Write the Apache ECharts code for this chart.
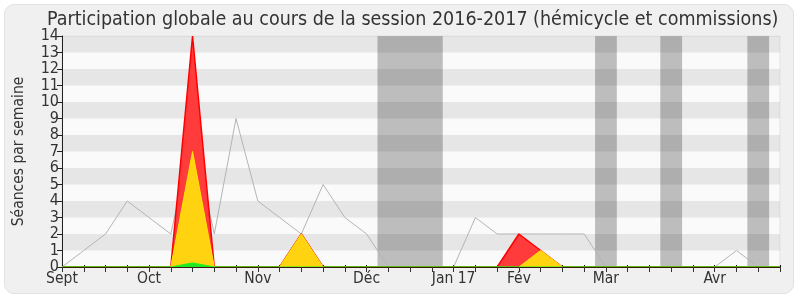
<!DOCTYPE html>
<html>
<head>
<meta charset="utf-8">
<script src="https://cdn.jsdelivr.net/npm/echarts@6/dist/echarts.min.js"></script>
<style>
  html, body { margin: 0; padding: 0; background: #ffffff; }
  #frame { position: absolute; left: 4px; top: 4px; width: 788px; height: 288px;
           background: #f0f0f0; border: 1px solid #e2e2e2; border-radius: 10px; }
  #chart { position: absolute; left: 0; top: 0; width: 800px; height: 300px; }
</style>
</head>
<body>
<div id="frame"></div>
<div id="chart"></div>
<script>
// Week tick labels (one entry per week, Sept 2016 -> Apr 2017)
const weekLabels = ['Sept','','','','Oct','','','','','Nov','','','','','Déc','','','','Jan 17','','','Fév','','','','Mar','','','','','Avr','','',''];
// Grey line: weekly reference activity
const greyValues   = [0,1,2,4,3,2,8,2,9,4,3,2,5,3,2,0,0,0,0,3,2,2,2,2,2,0,0,0,0,0,0,1,0,0];
// Red area
const redValues    = [0,0,0,0,0,0,14,0,0,0,0,2,0,0,0,0,0,0,0,0,0,2,1,0,0,0,0,0,0,0,0,0,0,0];
// Yellow area
const yellowValues = [0,0,0,0,0,0,7,0,0,0,0,2,0,0,0,0,0,0,0,0,0,0,1,0,0,0,0,0,0,0,0,0,0,0];
// Green area
const greenValues  = [0,0,0,0,0,0,0.25,0,0,0,0,0,0,0,0,0,0,0,0,0,0,0,0,0,0,0,0,0,0,0,0,0,0,0];
// Vacation weeks (first, last week index)
const vacations = [[15,17],[25,25],[28,28],[32,32]];
const yMax = 14;

const toPts = arr => arr.map((v, i) => [i, v]);
const fontFam = "'DejaVu Sans Condensed', 'DejaVu Sans', sans-serif";

const stripeAreas = [];
for (let k = 1; k < yMax; k += 2) stripeAreas.push([{ yAxis: k }, { yAxis: k + 1 }]);
const bandAreas = vacations.map(([a, b]) => [{ xAxis: a - 0.5 }, { xAxis: b + 0.5 }]);

const chart = echarts.init(document.getElementById('chart'), null, { renderer: 'canvas' });
chart.setOption({
  animation: false,
  backgroundColor: 'transparent',
  title: {
    text: 'Participation globale au cours de la session 2016-2017 (hémicycle et commissions)',
    left: 42, top: 5,
    textStyle: { fontFamily: fontFam, fontSize: 19.5, fontWeight: 'normal', color: '#333' }
  },
  grid: { left: 62, right: 20, top: 36, bottom: 33, show: true,
          backgroundColor: '#fafafa', borderColor: '#e4e4e4', borderWidth: 1 },
  xAxis: [{
    type: 'value', min: 0, max: weekLabels.length - 1, interval: 1, z: 10,
    axisLine: { show: true, onZero: false, lineStyle: { color: '#3a1a0a', width: 1 } },
    axisTick: { show: true, length: 5, lineStyle: { color: '#333' } },
    axisLabel: { fontFamily: fontFam, fontSize: 15.5, color: '#333', margin: 4,
                 formatter: v => weekLabels[v] || '' , showMinLabel: true, showMaxLabel: true, hideOverlap: false },
    splitLine: { show: false }
  }, {
    type: 'value', position: 'top', min: 0, max: weekLabels.length - 1, interval: 1,
    axisLine: { show: false },
    axisTick: { show: true, length: 2, lineStyle: { color: '#111' } },
    axisLabel: { show: false },
    splitLine: { show: false }
  }],
  yAxis: {
    type: 'value', min: 0, max: yMax, interval: 1,
    name: 'Séances par semaine', nameLocation: 'middle', nameGap: 35,
    nameTextStyle: { fontFamily: fontFam, fontSize: 15.5, color: '#333' },
    axisLine: { show: true, lineStyle: { color: '#222' } },
    axisTick: { show: true, length: 5, lineStyle: { color: '#222' } },
    axisLabel: { fontFamily: fontFam, fontSize: 16, color: '#333', margin: 3 },
    splitLine: { show: false }
  },
  series: [
    { type: 'line', z: 1, data: [[0, 0]], symbol: 'none', lineStyle: { opacity: 0 }, silent: true,
      markArea: { silent: true, itemStyle: { color: '#bdbdbd' }, data: bandAreas } },
    { type: 'line', z: 2, data: [[0, 0]], symbol: 'none', lineStyle: { opacity: 0 }, silent: true,
      markArea: { silent: true, itemStyle: { color: 'rgba(0,0,0,0.08)' }, data: stripeAreas } },
    { type: 'line', z: 3, data: toPts(greyValues), symbol: 'none',
      lineStyle: { color: '#b4b4b4', width: 1 } },
    { type: 'line', z: 4, data: toPts(redValues), symbol: 'none',
      lineStyle: { color: '#ff0000', width: 1.5 }, areaStyle: { color: '#ff3b3b', opacity: 1 } },
    { type: 'line', z: 5, data: toPts(yellowValues), symbol: 'none',
      lineStyle: { color: '#ffe600', width: 1 }, areaStyle: { color: '#ffd30f', opacity: 1 } },
    { type: 'line', z: 6, data: toPts(greenValues), symbol: 'none',
      lineStyle: { color: '#1cf01c', width: 1 }, areaStyle: { color: '#22e622', opacity: 1 } },
    { type: 'line', z: 7, data: [[0, 0]], symbol: 'none', lineStyle: { opacity: 0 }, silent: true,
      markLine: { silent: true, symbol: 'none', label: { show: false },
                  lineStyle: { color: '#3a1a0a', width: 2, type: 'solid' }, data: [{ yAxis: 0 }] } }
  ]
});
</script>
</body>
</html>
